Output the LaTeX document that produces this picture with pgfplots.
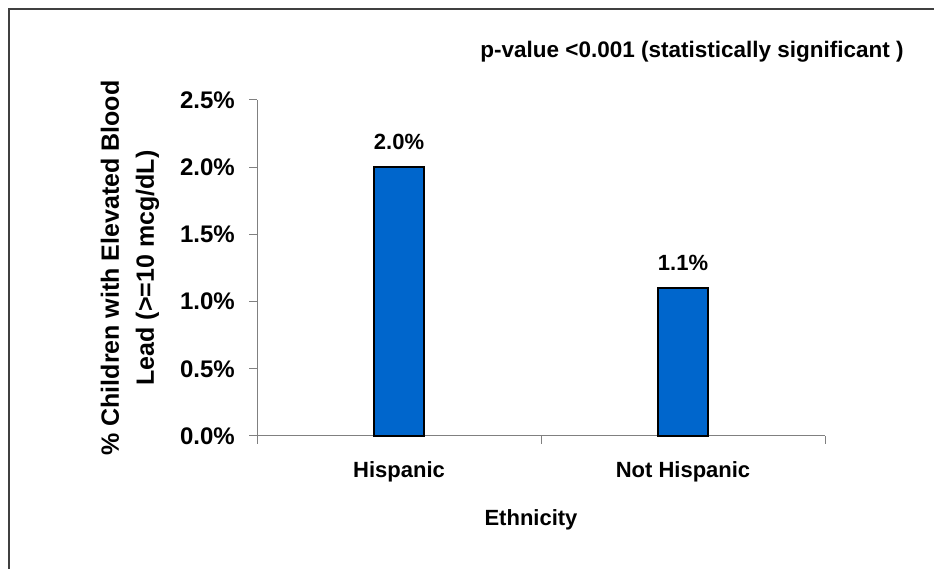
\documentclass[border=0pt]{standalone}
\usepackage{fontspec}
\setmainfont{Liberation Sans}
\usepackage{pgfplots}
\pgfplotsset{compat=1.18}
\definecolor{barblue}{RGB}{0,102,204}
\definecolor{axisgray}{RGB}{128,128,128}
\definecolor{framegray}{RGB}{64,64,64}

\begin{document}
\begin{tikzpicture}[x=1bp,y=1bp]
  \path[use as bounding box] (0,0) rectangle (934,569);
  % outer frame (top and left edges)
  \draw[framegray, line width=1.5bp] (9,0) -- (9,560) -- (934,560);

  \begin{axis}[
    at={(257bp,133bp)}, anchor=south west,
    scale only axis, width=568bp, height=336bp,
    font=\fontsize{22bp}{26bp}\selectfont\bfseries,
    /pgf/number format/assume math mode=true,
    xmin=-0.5, xmax=1.5, ymin=0, ymax=2.5,
    axis x line*=bottom, axis y line*=left,
    axis line style={axisgray, line width=1bp, -},
    ytick={0,0.5,1,1.5,2,2.5},
    yticklabel={\pgfmathprintnumber[fixed,fixed zerofill,precision=1]{\tick}\%},
    ytick style={axisgray, line width=1bp},
    tick align=outside, major tick length=8bp,
    xtick={0,1}, xticklabels={Hispanic, Not Hispanic},
    xtick style={draw=none},
    extra x ticks={-0.5,0.5,1.5}, extra x tick labels={},
    extra x tick style={xtick style={axisgray, line width=1bp, draw=axisgray}},
    xticklabel style={anchor=center, inner sep=0, yshift=-28bp},
    yticklabel style={anchor=east, inner sep=0, xshift=-14bp, font=\fontsize{24bp}{28bp}\selectfont\bfseries},
    xlabel={Ethnicity},
    xlabel style={at={(axis description cs:0.5,0)}, anchor=center, inner sep=0, yshift=-84bp, xshift=-10bp},
    ylabel={\% Children with Elevated Blood\\Lead (>=10 mcg/dL)},
    ylabel style={at={(axis description cs:0,0.5)}, anchor=center, align=center, inner sep=0, yshift=127bp, font=\fontsize{25bp}{35bp}\selectfont\bfseries},
    ybar, bar width=50bp,
    nodes near coords={\pgfmathprintnumber[fixed,fixed zerofill,precision=1]{\pgfplotspointmeta}\%},
    every node near coord/.append style={anchor=south, inner sep=0, yshift=17bp, black},
    clip=false,
  ]
    \addplot[fill=barblue, draw=black, line width=1.5bp] coordinates {(0,2.0) (1,1.1)};
  \end{axis}

  \node[font=\fontsize{22.5bp}{26bp}\selectfont\bfseries, anchor=center] at (692,517) {p-value <0.001 (statistically significant )};
\end{tikzpicture}
\end{document}
